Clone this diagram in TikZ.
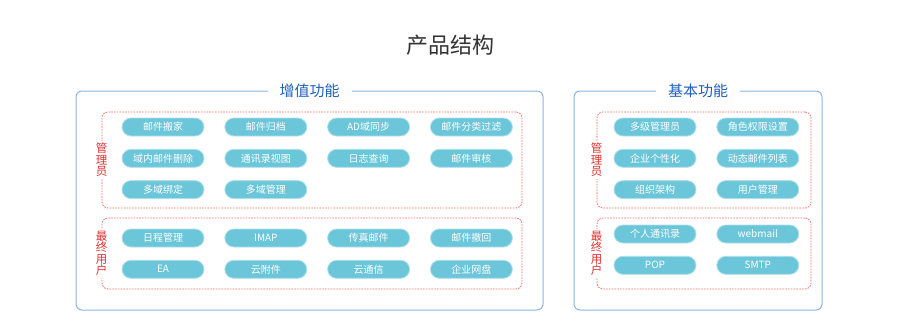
\documentclass[tikz,border=0pt]{standalone}
\usepackage{fontspec}
\setmainfont{Noto Sans CJK SC}
\usepackage{xcolor}
\usetikzlibrary{positioning}

\definecolor{frameblue}{HTML}{8CB3E3}
\definecolor{titleblue}{HTML}{1F5FBF}
\definecolor{dashred}{HTML}{EF6B6B}
\definecolor{labelred}{HTML}{E0322F}
\definecolor{pillcyan}{HTML}{6CC6D9}
\definecolor{titlegray}{HTML}{333333}

\begin{document}
\begin{tikzpicture}[
    x=1pt, y=-1pt,
    font=\fontsize{10}{12}\selectfont,
    frame/.style={draw=frameblue, line width=1pt, rounded corners=6pt},
    group/.style={draw=dashred, line width=0.8pt, dash pattern=on 1.6pt off 1.2pt, rounded corners=6pt},
    head/.style={fill=white, text=titleblue, inner xsep=12pt, inner ysep=1pt, font=\fontsize{15}{16}\selectfont},
    role/.style={fill=white, text=labelred, align=center, inner xsep=1pt, inner ysep=2pt, font=\fontsize{11.5}{11.5}\selectfont},
    pill/.style={fill=pillcyan, draw=pillcyan!55!white, line width=0.8pt, rounded corners=9pt,
      minimum width=82pt, minimum height=18pt, inner sep=0pt, text=white},
    gap/.style={right=20pt of #1},
    under/.style={below=12.5pt of #1}
  ]
  \useasboundingbox (0,0) rectangle (900,330);
  \node[text=titlegray, font=\fontsize{22}{24}\selectfont] (title) at (450,45) {产品结构};

  % value-added functions
  \node[frame, minimum width=467pt, minimum height=219pt] (addon) at (309.5,200.5) {};
  \node[group, minimum width=420pt, minimum height=96pt] (addadmin) at (312,160) {};
  \node[group, minimum width=420pt, minimum height=71pt] (adduser) at (312,253.5) {};
  \node[head] at (addon.north) {增值功能};
  \node[role] at (addadmin.west) {管\\理\\员};
  \node[role] at (adduser.west) {最\\终\\用\\户};

  \node[pill] (move) at (163,127) {邮件搬家};
  \node[pill, gap=move] (archive) {邮件归档};
  \node[pill, gap=archive] (adsync) {AD域同步};
  \node[pill, gap=adsync] (filter) {邮件分类过滤};
  \node[pill, under=move] (delete) {域内邮件删除};
  \node[pill, gap=delete] (abview) {通讯录视图};
  \node[pill, gap=abview] (logs) {日志查询};
  \node[pill, gap=logs] (audit) {邮件审核};
  \node[pill, under=delete] (bind) {多域绑定};
  \node[pill, gap=bind] (domains) {多域管理};

  \node[pill] (sched) at (163,238) {日程管理};
  \node[pill, gap=sched] (imap) {IMAP};
  \node[pill, gap=imap] (fax) {传真邮件};
  \node[pill, gap=fax] (recall) {邮件撤回};
  \node[pill, under=sched] (ea) {EA};
  \node[pill, gap=ea] (cloudatt) {云附件};
  \node[pill, gap=cloudatt] (cloudmsg) {云通信};
  \node[pill, gap=cloudmsg] (netdisk) {企业网盘};

  % basic functions
  \node[frame, minimum width=248pt, minimum height=219pt] (basic) at (698,200.5) {};
  \node[group, minimum width=214pt, minimum height=96pt] (basadmin) at (704,160) {};
  \node[group, minimum width=214pt, minimum height=71pt] (basuser) at (704,253.5) {};
  \node[head] at (basic.north) {基本功能};
  \node[role] at (basadmin.west) {管\\理\\员};
  \node[role] at (basuser.west) {最\\终\\用\\户};

  \node[pill] (multiadmin) at (655,127) {多级管理员};
  \node[pill, gap=multiadmin] (roles) {角色权限设置};
  \node[pill, under=multiadmin] (custom) {企业个性化};
  \node[pill, gap=custom] (mlist) {动态邮件列表};
  \node[pill, under=custom] (org) {组织架构};
  \node[pill, gap=org] (users) {用户管理};

  \node[pill] (contacts) at (655,234) {个人通讯录};
  \node[pill, gap=contacts] (webmail) {webmail};
  \node[pill, under=contacts] (pop) {POP};
  \node[pill, gap=pop] (smtp) {SMTP};
\end{tikzpicture}
\end{document}
